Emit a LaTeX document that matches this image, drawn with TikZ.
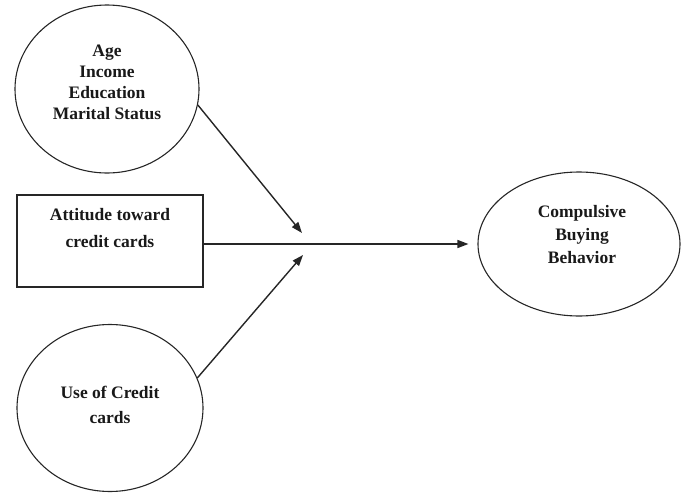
\documentclass[tikz,border=0pt]{standalone}
\usepackage{fontspec}
\setmainfont{Liberation Serif}
\usetikzlibrary{shapes.geometric,arrows.meta}
\begin{document}
\begin{tikzpicture}[x=1pt,y=-1pt,
  shp/.style={draw=black!85,line width=1.1pt},
  oval/.style={shp,ellipse,inner sep=0pt},
  lbl/.style={align=center,text=black!90,font={\bfseries\fontsize{17.5}{#1}\selectfont}},
  conn/.style={draw=black!85,line width=1.4pt,-{Triangle[length=11pt,width=8pt]}}]
\useasboundingbox (0,0) rectangle (681,493);
% shapes
\node[oval,minimum width=184pt,minimum height=168pt] (demo) at (107,89) {};
\node[shp,rectangle,minimum width=186pt,minimum height=92pt,inner sep=0pt] (att) at (110,241) {};
\node[oval,minimum width=186pt,minimum height=167pt] (use) at (110,408) {};
\node[oval,minimum width=202pt,minimum height=144pt] (cbb) at (579,244) {};
% texts
\node[lbl=21] (demot) at (107,82) {Age\\Income\\Education\\Marital Status};
\node[lbl=27] (attt) at (110,228) {Attitude toward\\credit cards};
\node[lbl=25] (uset) at (110,405) {Use of Credit\\cards};
\node[lbl=23] (cbbt) at (582,235) {Compulsive\\Buying\\Behavior};
% connectors
\coordinate (tip1) at (302,233);
\coordinate (tip2) at (303,255);
\coordinate (astart) at (203,244);
\draw[conn] (demo.-10) -- (tip1);
\draw[conn] (use.19) -- (tip2);
\draw[conn,shorten >=9pt] (astart) -- (cbb.west |- astart);
\end{tikzpicture}
\end{document}
